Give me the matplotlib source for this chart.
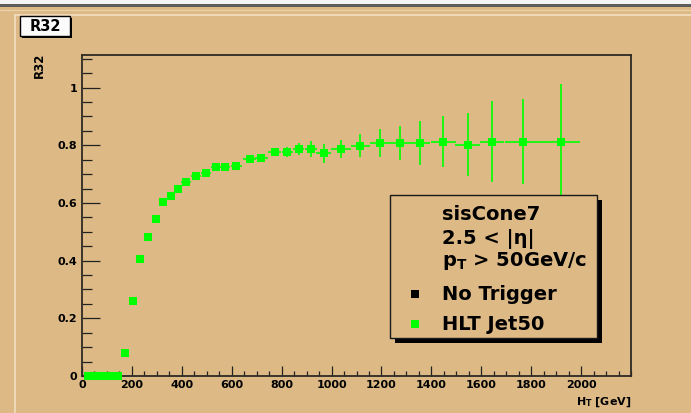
import matplotlib
matplotlib.use("Agg")
import matplotlib.pyplot as plt
from matplotlib.patches import Rectangle
from matplotlib.lines import Line2D
from matplotlib.ticker import MultipleLocator, FixedLocator, FixedFormatter

# ---- data ----
ht = [25, 45, 65, 85, 105, 125, 145, 173, 205, 233, 263, 295, 324, 355, 384,
      415, 455, 495, 535, 575, 619, 672, 719, 772, 823, 868, 917, 969, 1036,
      1116, 1196, 1276, 1356, 1448, 1545, 1643, 1769, 1919]
r32 = [0, 0, 0, 0, 0, 0, 0, 0.081, 0.26, 0.405, 0.483, 0.543, 0.604, 0.624,
       0.649, 0.674, 0.694, 0.703, 0.724, 0.724, 0.728, 0.753, 0.755, 0.776,
       0.776, 0.787, 0.787, 0.773, 0.787, 0.799, 0.808, 0.808, 0.808, 0.813,
       0.802, 0.813, 0.813, 0.813]
r32_err = [0, 0, 0, 0, 0, 0, 0, 0.004, 0.004, 0.004, 0.004, 0.004, 0.004,
           0.004, 0.004, 0.004, 0.004, 0.006, 0.006, 0.006, 0.006, 0.008, 0.010,
           0.012, 0.018, 0.022, 0.028, 0.033, 0.030, 0.041, 0.050, 0.060, 0.077,
           0.087, 0.109, 0.139, 0.147, 0.201]
ht_err = [10, 10, 10, 10, 10, 10, 10, 15, 15, 15, 15, 15, 15, 15, 15, 20, 20,
          20, 20, 20, 22, 25, 25, 25, 22, 22, 25, 30, 40, 40, 40, 40, 40, 50,
          50, 50, 75, 75]

x_ticks = [0, 200, 400, 600, 800, 1000, 1200, 1400, 1600, 1800, 2000]
x_ticklabels = ["0", "200", "400", "600", "800", "1000", "1200", "1400",
                "1600", "1800", "2000"]
y_ticks = [0, 0.2, 0.4, 0.6, 0.8, 1.0]
y_ticklabels = ["0", "0.2", "0.4", "0.6", "0.8", "1"]

legend_header = ["sisCone7", "2.5 < |η|", r"p$_{\rm T}$ > 50GeV/c"]
legend_labels = ["No Trigger", "HLT Jet50"]
legend_colors = ["#000000", "#00ff00"]

# ---- style ----
W, H = 691, 413
BG = "#dcb985"
FONT = ["DejaVu Sans"]
plt.rcParams["font.family"] = FONT
plt.rcParams["font.weight"] = "bold"
plt.rcParams["mathtext.fontset"] = "custom"
plt.rcParams["mathtext.rm"] = "DejaVu Sans:bold"
plt.rcParams["mathtext.it"] = "DejaVu Sans:bold"
plt.rcParams["mathtext.bf"] = "DejaVu Sans:bold"

fig = plt.figure(figsize=(W / 100, H / 100), dpi=100)
fig.patch.set_facecolor(BG)


def fx(x):
    return x / W


def fy(y):
    return 1 - y / H


# canvas decorations
fig.add_artist(Rectangle((0, fy(4)), 1, 4 / H, transform=fig.transFigure,
                         facecolor="#f4f4f4", edgecolor="none", zorder=0))
fig.add_artist(Rectangle((0, fy(7)), 1, 3 / H, transform=fig.transFigure,
                         facecolor="#5c5c5c", edgecolor="none", zorder=0))
fig.add_artist(Line2D([0, 1], [fy(9.5), fy(9.5)], transform=fig.transFigure,
                      color="#ecd3ab", lw=0.8))
fig.add_artist(Line2D([fx(14.5), 1], [fy(14.5), fy(14.5)], transform=fig.transFigure,
                      color="#f2dfc2", lw=1.2))
fig.add_artist(Line2D([fx(14.5), fx(14.5)], [0, fy(14.5)], transform=fig.transFigure,
                      color="#f2dfc2", lw=1.2))

# axes
ax = fig.add_axes([fx(82), fy(376), (631 - 82) / W, (376 - 55) / H])
ax.set_facecolor(BG)
ax.set_xlim(0, 2200)
ax.set_ylim(0, 1.113)

eb = ax.errorbar(ht, r32, yerr=r32_err, xerr=ht_err, fmt="s", color="#00ff00",
                 ecolor="#00ff00", ms=5.8, mew=0, elinewidth=1.2, capsize=2.5,
                 capthick=1.2, zorder=3)
eb[0].set_clip_on(False)

for s in ["top", "right", "bottom", "left"]:
    ax.spines[s].set_color("#2e2a24")
    ax.spines[s].set_linewidth(1.3)

ax.xaxis.set_major_locator(FixedLocator(x_ticks))
ax.xaxis.set_major_formatter(FixedFormatter(x_ticklabels))
ax.xaxis.set_minor_locator(MultipleLocator(50))
ax.yaxis.set_major_locator(FixedLocator(y_ticks))
ax.yaxis.set_major_formatter(FixedFormatter(y_ticklabels))
ax.yaxis.set_minor_locator(MultipleLocator(0.05))

ax.tick_params(axis="x", which="major", direction="in", length=7.2, width=0.9,
               color="#222", labelsize=8, pad=3, top=False)
ax.tick_params(axis="x", which="minor", direction="in", length=3.6, width=0.9,
               color="#222", top=False)
ax.tick_params(axis="y", which="major", direction="in", length=13, width=0.9,
               color="#222", labelsize=8, pad=3.5, right=False)
ax.tick_params(axis="y", which="minor", direction="in", length=7.2, width=0.9,
               color="#222", right=False)
for lab in ax.get_xticklabels() + ax.get_yticklabels():
    lab.set_fontweight("bold")

# axis titles
fig.text(fx(39), fy(53), "R32", rotation=90, ha="center", va="top",
         fontsize=8.5, fontweight="bold")
fig.text(fx(631), fy(402), r"H$_{\rm T}$ [GeV]", ha="right", va="center",
         fontsize=8, fontweight="bold")

# title box
fig.add_artist(Rectangle((fx(22), fy(38)), 50 / W, 20 / H, transform=fig.transFigure,
                         facecolor="#000000", edgecolor="none", zorder=5))
fig.add_artist(Rectangle((fx(20), fy(36)), 50 / W, 20 / H, transform=fig.transFigure,
                         facecolor="#fbfbfb", edgecolor="#000000", lw=1.0, zorder=6))
fig.text(fx(45), fy(26.5), "R32", ha="center", va="center", fontsize=10.5,
         fontweight="bold", zorder=7)

# legend box
lx0, ly0, lx1, ly1 = 390, 195, 597, 338
fig.add_artist(Rectangle((fx(lx0 + 5), fy(ly1 + 5)), (lx1 - lx0) / W, (ly1 - ly0) / H,
                         transform=fig.transFigure, facecolor="#000000",
                         edgecolor="none", zorder=8))
fig.add_artist(Rectangle((fx(lx0), fy(ly1)), (lx1 - lx0) / W, (ly1 - ly0) / H,
                         transform=fig.transFigure, facecolor=BG,
                         edgecolor="#1a1a1a", lw=1.0, zorder=9))
header_y = [214, 239, 261]
for txt, yy in zip(legend_header, header_y):
    fig.text(fx(442), fy(yy), txt, ha="left", va="center", fontsize=14,
             fontweight="bold", zorder=10)
entry_y = [295, 325]
for txt, col, yy in zip(legend_labels, legend_colors, entry_y):
    fig.text(fx(442), fy(yy), txt, ha="left", va="center", fontsize=14,
             fontweight="bold", zorder=10)
    fig.add_artist(Line2D([fx(415)], [fy(yy - 1)], transform=fig.transFigure,
                          marker="s", ms=5.8, mew=0, color=col, ls="none",
                          zorder=10))

fig.savefig("out.png", dpi=100, facecolor=BG)
